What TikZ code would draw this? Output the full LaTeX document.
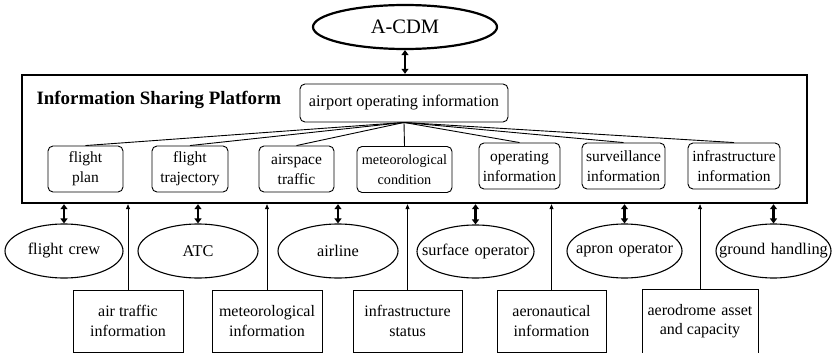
\documentclass[tikz,border=0pt]{standalone}
\usepackage{fontspec}
\setmainfont{Liberation Serif}
\usetikzlibrary{arrows.meta,shapes.geometric}

% text of fixed-size shapes is set in a zero-width box so that the outline
% keeps the given size
\newcommand{\fixedtext}[1]{\makebox[0pt]{#1}}

\tikzset{
  infobox/.style={draw, rounded corners=5pt, line width=0.9pt, align=center,
    inner sep=0pt, minimum height=46pt, font=\fontsize{15.5}{20}\selectfont},
  actor/.style={draw, ellipse, line width=1.1pt, inner sep=0pt,
    minimum height=54pt, font=\fontsize{16.3}{19}\selectfont},
  srcbox/.style={draw, rectangle, line width=0.9pt, align=center,
    inner sep=0pt, minimum width=110pt, minimum height=62pt,
    font=\fontsize{16}{19.5}\selectfont},
  dbl/.style={line width=2.4pt,
    {Triangle[length=5pt,width=7pt]}-{Triangle[length=5pt,width=7pt]}},
  feed/.style={line width=0.7pt, -{Triangle[length=5pt,width=4pt]}},
  branch/.style={line width=0.9pt}
}

\begin{document}
\begin{tikzpicture}[x=1pt,y=-1pt]
\useasboundingbox (0,0) rectangle (832,353);

% coordination layer
\node[draw, ellipse, line width=2.2pt, inner sep=0pt, minimum width=184pt,
  minimum height=44pt, font=\fontsize{20.5}{24}\selectfont] (acdm) at (405,27)
  {\fixedtext{A-CDM}};

% shared platform frame
\node[draw, rectangle, line width=2.4pt, minimum width=785pt, minimum height=128pt,
  inner sep=0pt] (plat) at (414.5,139) {};
\node[anchor=base west, font=\fontsize{18.9}{22}\selectfont\bfseries] (title) at (33,104)
  {Information Sharing Platform};

% root of the information tree
\node[draw, rounded corners=5pt, line width=0.9pt, inner sep=0pt,
  minimum width=208pt, minimum height=38pt, font=\fontsize{16.3}{19}\selectfont]
  (aoi) at (404,103) {airport operating information};

% information categories
\node[infobox, minimum width=75pt] (fp) at (85.5,169) {flight\\plan};
\node[infobox, minimum width=76pt] (ft) at (190,169) {flight\\trajectory};
\node[infobox, minimum width=75pt] (at) at (296.5,169) {airspace\\traffic};
\node[infobox, minimum width=95pt, font=\fontsize{14.2}{20}\selectfont] (mc) at (404.5,169.5) {meteorological\\condition};
\node[infobox, minimum width=81pt] (oi) at (519.5,166) {operating\\information};
\node[infobox, minimum width=83pt] (si) at (623.5,166) {surveillance\\information};
\node[infobox, minimum width=92pt] (ii) at (734,166) {infrastructure\\information};

\foreach \n in {fp,ft,at,mc,oi,si,ii}
  \draw[branch] (aoi.south) -- (\n.north);

% stakeholders
\node[actor, minimum width=118pt] (crew) at (64,251) {\fixedtext{flight\,\,crew}};
\node[actor, minimum width=120pt] (atc) at (198,251) {\fixedtext{ATC}};
\node[actor, minimum width=120pt] (airl) at (338,251) {\fixedtext{airline}};
\node[actor, minimum width=117pt, minimum height=53pt] (surf) at (475.5,251.5) {\fixedtext{surface\,\,operator}};
\node[actor, minimum width=115pt] (apron) at (624.5,251) {\fixedtext{apron\,\,operator}};
\node[actor, minimum width=115pt] (gh) at (773.5,251) {\fixedtext{ground\,\,handling}};

% information sources
\node[srcbox] (ati) at (128,321) {air traffic\\information};
\node[srcbox] (met) at (267,321) {meteorological\\information};
\node[srcbox, minimum width=109pt] (inf) at (407.5,321) {infrastructure\\status};
\node[srcbox, minimum width=109pt] (aer) at (551.5,321) {aeronautical\\information};
\node[srcbox, minimum width=116pt, minimum height=64pt] (adr) at (700,321) {aerodrome\,\,asset\\and capacity};

% exchanges
\draw[dbl] (acdm.south) -- (acdm.south |- plat.north);
\foreach \n in {crew,atc,airl,surf,apron,gh}
  \draw[dbl] (\n.north |- plat.south) -- (\n.north);
\foreach \n in {ati,met,inf,aer,adr}
  \draw[feed] (\n.north) -- (\n.north |- plat.south);
\end{tikzpicture}
\end{document}
